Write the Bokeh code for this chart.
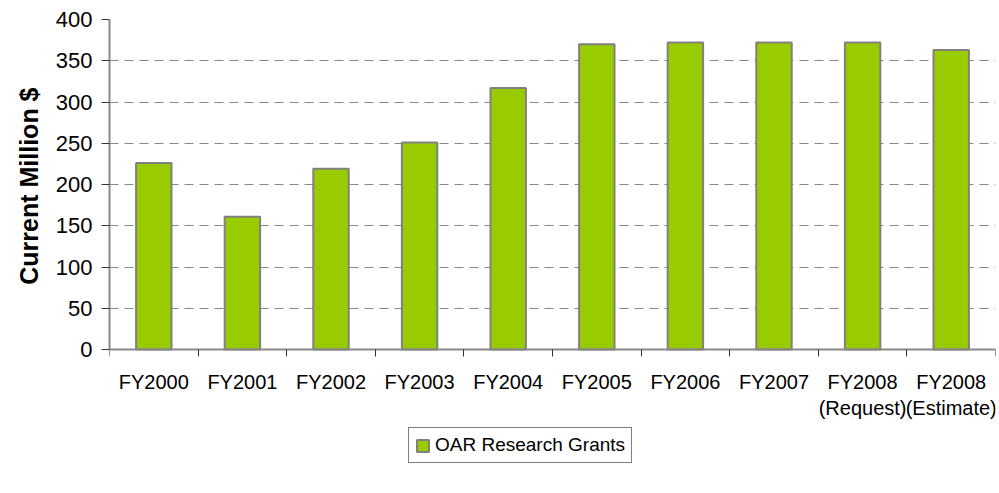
from bokeh.plotting import figure
from bokeh.models import Range1d, FixedTicker, Legend, LegendItem, Title
from bokeh.embed import file_html
from bokeh.resources import INLINE

categories = ["FY2000", "FY2001", "FY2002", "FY2003", "FY2004", "FY2005",
              "FY2006", "FY2007", "FY2008\n(Request)", "FY2008\n(Estimate)"]
values = [226, 161, 219, 251, 317, 370, 372, 372, 372, 363]
y_ticks = [0, 50, 100, 150, 200, 250, 300, 350, 400]
series_name = "OAR Research Grants"
y_title = "Current Million $"

xs = [i + 0.5 for i in range(len(categories))]
bounds = [i for i in range(len(categories) + 1)]

# frame: top 19 -> bottom 475; value 0 sits at pixel 349
Y_MIN = -152.7
p = figure(width=999, height=485, output_backend="svg", toolbar_location=None,
           x_range=Range1d(0, len(categories)), y_range=Range1d(Y_MIN, 400),
           min_border_left=109, min_border_right=4, min_border_top=19,
           min_border_bottom=10)
p.outline_line_color = None
p.background_fill_color = "white"
p.border_fill_color = "white"

r = p.vbar(x=xs, top=values, bottom=0, width=0.4, fill_color="#99CC00",
           line_color="#808080", line_width=2)

# x axis, pinned at value 0
p.xaxis.fixed_location = 0
p.xaxis.ticker = FixedTicker(ticks=xs, minor_ticks=bounds)
p.xaxis.major_label_overrides = {x: c for x, c in zip(xs, categories)}
p.xaxis.major_tick_out = 0
p.xaxis.major_tick_in = 0
p.xaxis.minor_tick_out = 7
p.xaxis.minor_tick_in = 0
p.xaxis.minor_tick_line_color = "#333333"
p.xaxis.axis_line_color = "#888888"
p.xaxis.axis_line_width = 2
p.xaxis.major_label_text_font = "Liberation Sans"
p.xaxis.major_label_text_font_size = "20px"
p.xaxis.major_label_text_color = "black"
p.xaxis.major_label_standoff = 14
p.xgrid.grid_line_color = None

# y axis
p.yaxis.bounds = (0, 400)
p.yaxis.ticker = FixedTicker(ticks=y_ticks)
p.yaxis.major_tick_out = 8
p.yaxis.major_tick_in = 0
p.yaxis.minor_tick_line_color = None
p.yaxis.major_tick_line_color = "#333333"
p.yaxis.axis_line_color = "#888888"
p.yaxis.axis_line_width = 2
p.yaxis.major_label_text_font = "Liberation Sans"
p.yaxis.major_label_text_font_size = "22px"
p.yaxis.major_label_text_color = "black"
p.yaxis.major_label_standoff = 9

ttl = Title(text=y_title, align="right", offset=68, standoff=20,
            text_font="Liberation Sans", text_font_style="bold",
            text_font_size="25px", text_color="black")
p.add_layout(ttl, "left")

p.ygrid.grid_line_color = "#888888"
p.ygrid.grid_line_dash = "9 6"
p.ygrid.grid_line_width = 1

legend = Legend(items=[LegendItem(label=series_name, renderers=[r])],
                location=(299, 12), orientation="horizontal")
legend.border_line_color = "black"
legend.border_line_width = 1
legend.label_text_font = "Liberation Sans"
legend.label_text_font_size = "19px"
legend.label_text_color = "black"
legend.glyph_width = 15
legend.glyph_height = 15
legend.label_standoff = 5
legend.padding = 6
legend.margin = 0
legend.background_fill_color = "white"
p.add_layout(legend, "center")

open("out.html", "w").write(file_html(p, INLINE))
